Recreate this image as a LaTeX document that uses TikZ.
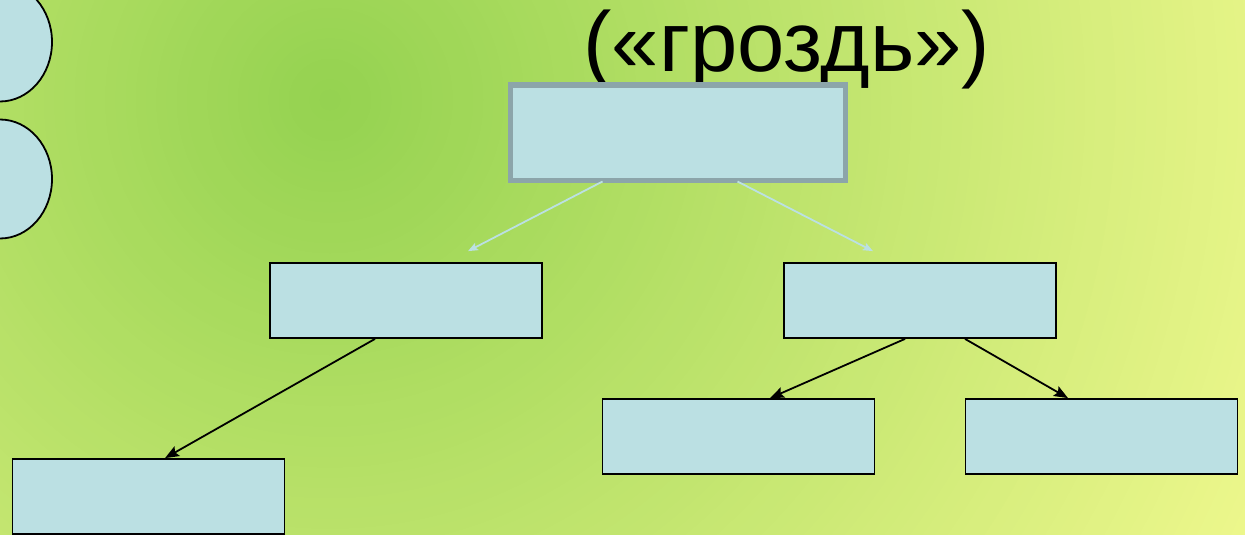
\documentclass[tikz,border=0pt]{standalone}
\usepackage{fontspec}
\setmainfont{Liberation Sans}
\usepackage{tikz}
\usetikzlibrary{shapes.geometric}
\usetikzlibrary{arrows.meta}

\definecolor{bgin}{HTML}{94D250}
\definecolor{bgout}{HTML}{EDF78C}
\definecolor{boxfill}{HTML}{BBE0E3}
\definecolor{topline}{HTML}{8CA5AA}

\tikzset{
  box/.style={draw, fill=boxfill, line width=1.8pt, inner sep=0pt,
    minimum width=272pt, minimum height=75pt},
  topbox/.style={box, draw=topline, line width=5pt,
    minimum width=335pt, minimum height=95pt},
  bubble/.style={ellipse, draw, fill=boxfill, line width=1.8pt, inner sep=0pt,
    minimum width=104pt, minimum height=119pt},
}

\begin{document}
\begin{tikzpicture}[x=1pt,y=-1pt]
  \useasboundingbox (0,0) rectangle (1245,535);
  \clip (0,0) rectangle (1245,535);
  % background glow
  \foreach \i in {100,99,...,1}
    \fill[bgout!\i!bgin] (330,100) circle (10.2*\i);

  \node (bub1) [bubble] at (0,42) {};
  \node (bub2) [bubble] at (0,179) {};

  \node (title) [anchor=base, font=\fontsize{85}{96}\selectfont] at (787,72) {(«гроздь»)};

  \node (top) [topbox] at (677.5,132.5) {};
  \node (l)  [box] at (406,300.5) {};
  \node (r)  [box] at (920,300.5) {};
  \node (ll) [box] at (148.5,496.5) {};
  \node (rl) [box] at (738.5,436.5) {};
  \node (rr) [box] at (1101.5,436.5) {};

  \path[-{Stealth[length=10pt,width=8pt,inset=2pt]}, line width=1.8pt,
        every edge/.append style={draw=boxfill}]
    ([xshift=-75pt,yshift=1pt]top.south) edge ([xshift=62pt,yshift=11pt]l.north)
    ([xshift=60pt,yshift=1pt]top.south) edge ([xshift=-47pt,yshift=11pt]r.north);
  \path[-{Stealth[length=14pt,width=11pt,inset=2.5pt]}, line width=1.8pt]
    ([xshift=-31pt]l.south) edge ([xshift=16.5pt]ll.north)
    ([xshift=-15pt]r.south) edge ([xshift=31.5pt]rl.north)
    ([xshift=45pt]r.south) edge ([xshift=-33.5pt]rr.north);
\end{tikzpicture}
\end{document}
